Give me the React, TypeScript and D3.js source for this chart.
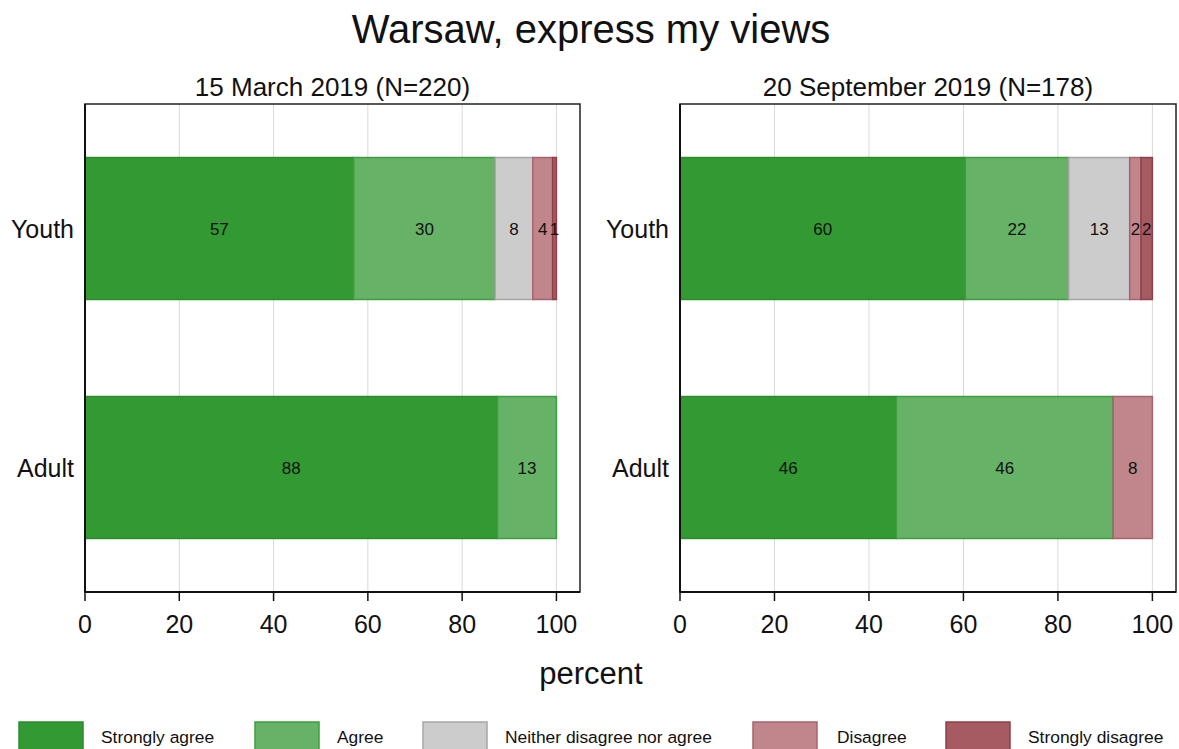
import React from "react";
import * as d3 from "d3";

const title = "Warsaw, express my views";
const categories = ["Youth", "Adult"];
const panelTitles = ["15 March 2019 (N=220)", "20 September 2019 (N=178)"];
const responses = ["Strongly agree", "Agree", "Neither disagree nor agree", "Disagree", "Strongly disagree"];
const fills = ["#339933", "#66b266", "#cccccc", "#c0868b", "#a65a61"];
const strokes = ["#2c8c2c", "#3d9e3d", "#a6a6a6", "#a8626a", "#8e4049"];
const marchYouth = [57, 30, 8, 4.2, 0.8];
const marchAdult = [87.5, 12.5, 0, 0, 0];
const septYouth = [60.4, 21.9, 12.9, 2.4, 2.4];
const septAdult = [45.8, 45.9, 0, 8.3, 0];
const tickValues = [0, 20, 40, 60, 80, 100];
const gridValues = [20, 40, 60, 80, 100];

const panelData = [
  [marchYouth, marchAdult],
  [septYouth, septAdult],
];

const FONT = "'Liberation Sans', Arial, sans-serif";

function Panel({ x0, x1, title, rows }: { x0: number; x1: number; title: string; rows: number[][] }) {
  const top = 104;
  const bottom = 592;
  const x = d3.scaleLinear().domain([0, 105]).range([x0, x1]);
  const y = d3.scaleBand<string>().domain(categories).range([top, bottom]).paddingInner(0.406).paddingOuter(0.224);
  return (
    <g>
      <text x={(x0 + x1) / 2} y={96} textAnchor="middle" fontSize={26} fontFamily={FONT} fill="#111">{title}</text>
      <rect x={x0} y={top} width={x1 - x0} height={bottom - top} fill="white" />
      {gridValues.map((g) => (
        <line key={g} x1={x(g)} x2={x(g)} y1={top} y2={bottom} stroke="#d9d9d9" strokeWidth={1} />
      ))}
      {rows.map((vals, ri) => {
        const cat = categories[ri];
        const stack = d3.cumsum(vals);
        return (
          <g key={cat}>
            {vals.map((v, i) => {
              if (v <= 0) return null;
              const start = i === 0 ? 0 : stack[i - 1];
              const end = stack[i];
              return (
                <rect key={i} x={x(start)} y={y(cat)!} width={x(end) - x(start)} height={y.bandwidth()}
                  fill={fills[i]} stroke={strokes[i]} strokeWidth={1.5} />
              );
            })}
            {vals.map((v, i) => {
              if (v <= 0) return null;
              const start = i === 0 ? 0 : stack[i - 1];
              const end = stack[i];
              return (
                <text key={"t" + i} x={x((start + end) / 2)} y={y(cat)! + y.bandwidth() / 2 + 1} dy="0.35em"
                  textAnchor="middle" fontSize={17} fontFamily={FONT} fill="#111">{Math.round(v)}</text>
              );
            })}
            <text x={x0 - 11} y={y(cat)! + y.bandwidth() / 2 + 1} dy="0.35em" textAnchor="end" fontSize={25}
              fontFamily={FONT} fill="#111">{cat}</text>
          </g>
        );
      })}
      <rect x={x0} y={top} width={x1 - x0} height={bottom - top} fill="none" stroke="#222" strokeWidth={1.5} />
      <line x1={x0} x2={x0} y1={top} y2={bottom} stroke="#111" strokeWidth={2} />
      <line x1={x0} x2={x1} y1={bottom} y2={bottom} stroke="#111" strokeWidth={2} />
      {tickValues.map((t) => (
        <g key={t}>
          <line x1={x(t)} x2={x(t)} y1={bottom} y2={bottom + 9} stroke="#111" strokeWidth={1.5} />
          <text x={x(t)} y={633} textAnchor="middle" fontSize={25} fontFamily={FONT} fill="#111">{t}</text>
        </g>
      ))}
    </g>
  );
}

const legendBoxX = [19, 255, 423, 753, 946];
const legendTextX = [101, 337, 505, 837, 1028];

export default function App() {
  return (
    <svg width={1179} height={749} style={{ position: "absolute", left: 0, top: 0, background: "white" }}>
      <rect width={1179} height={749} fill="white" />
      <text x={591} y={43} textAnchor="middle" fontSize={40} fontFamily={FONT} fill="#111">{title}</text>
      <Panel x0={85} x1={580} title={panelTitles[0]} rows={panelData[0]} />
      <Panel x0={680} x1={1176} title={panelTitles[1]} rows={panelData[1]} />
      <text x={591} y={684} textAnchor="middle" fontSize={31} fontFamily={FONT} fill="#111">percent</text>
      {responses.map((r, i) => (
        <g key={r}>
          <rect x={legendBoxX[i]} y={722} width={64} height={32} fill={fills[i]} stroke={strokes[i]} strokeWidth={1.5} />
          <text x={legendTextX[i]} y={737} dy="0.35em" fontSize={17.4} fontFamily={FONT} fill="#111">{r}</text>
        </g>
      ))}
    </svg>
  );
}
